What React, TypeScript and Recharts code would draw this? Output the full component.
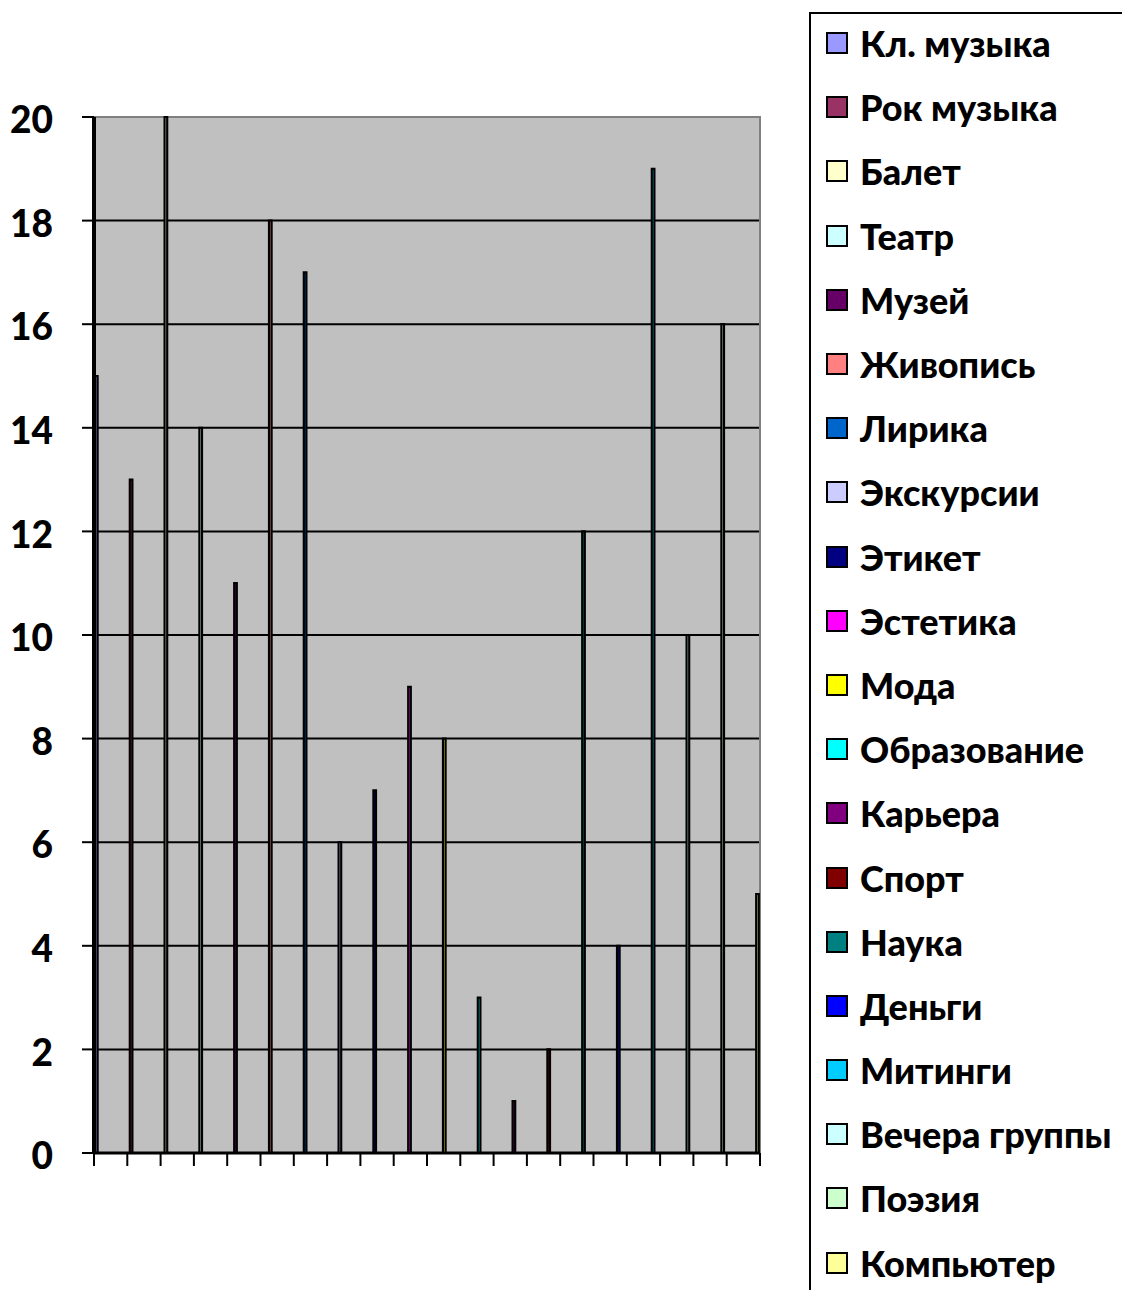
import { BarChart, Bar, XAxis, YAxis, CartesianGrid, ReferenceArea } from 'recharts';

const interests = [
  'Кл. музыка', 'Рок музыка', 'Балет', 'Театр', 'Музей', 'Живопись', 'Лирика',
  'Экскурсии', 'Этикет', 'Эстетика', 'Мода', 'Образование', 'Карьера', 'Спорт',
  'Наука', 'Деньги', 'Митинги', 'Вечера группы', 'Поэзия', 'Компьютер',
];
const votes = [15, 13, 20, 14, 11, 18, 17, 6, 7, 9, 8, 3, 1, 2, 12, 4, 19, 10, 16, 5];
const colors = [
  '#9999FF', '#993366', '#FFFFCC', '#CCFFFF', '#660066', '#FF8080', '#0066CC',
  '#CCCCFF', '#000080', '#FF00FF', '#FFFF00', '#00FFFF', '#800080', '#800000',
  '#008080', '#0000FF', '#00CCFF', '#CCFFFF', '#CCFFCC', '#FFFF99',
];
const yTicks = [0, 2, 4, 6, 8, 10, 12, 14, 16, 18, 20];
const xTicks = [0, 1, 2, 3, 4, 5, 6, 7, 8, 9, 10, 11, 12, 13, 14, 15, 16, 17, 18, 19, 20];

const row: Record<string, string | number> = { group: 'Интересы' };
interests.forEach((name, i) => { row[name] = votes[i]; });
const data = [row];

const FONT = 'Lato, "Open Sans", sans-serif';

// legend box on the right, cut off by the page edge like the original sheet
const LegendBox = () => (
  <div
    style={{
      position: 'absolute',
      left: 809,
      top: 12,
      width: 400,
      height: 1400,
      borderLeft: '2px solid #000',
      borderTop: '2px solid #000',
      boxSizing: 'border-box',
      background: '#fff',
      fontFamily: FONT,
    }}
  >
    <div style={{ marginTop: -3 }}>
      {interests.map((name, i) => (
        <div key={name} style={{ height: 64.2, display: 'flex', alignItems: 'center' }}>
          <span
            style={{
              width: 18,
              height: 18,
              marginLeft: 15,
              marginRight: 12,
              background: colors[i],
              border: '2px solid #000',
              flex: 'none',
            }}
          />
          <span style={{ fontSize: 36, fontWeight: 900, color: '#000', whiteSpace: 'nowrap', letterSpacing: 0 }}>
            {name}
          </span>
        </div>
      ))}
    </div>
  </div>
);

export default function App() {
  return (
    <div style={{ position: 'absolute', left: 0, top: 0, width: 1122, height: 1290, overflow: 'hidden', background: '#fff' }}>
      <BarChart
        width={800}
        height={1290}
        data={data}
        margin={{ top: 117, right: 40, bottom: 117, left: 0 }}
        barCategoryGap={0}
        barGap={32.2}
      >
        <CartesianGrid fill="#C0C0C0" vertical={false} stroke="#000" strokeWidth={2} />
        <ReferenceArea xAxisId="cat" y1={0} y2={20} fill="none" stroke="#808080" strokeWidth={2} />
        <XAxis xAxisId="cat" dataKey="group" hide height={0} />
        <XAxis
          xAxisId="ticks"
          type="number"
          dataKey={() => 20}
          domain={[0, 20]}
          ticks={xTicks}
          interval={0}
          allowDataOverflow
          height={20}
          tickFormatter={() => ''}
          tickSize={13}
          axisLine={{ stroke: '#000', strokeWidth: 3 }}
          tickLine={{ stroke: '#000', strokeWidth: 2 }}
        />
        <YAxis
          width={94}
          domain={[0, 20]}
          ticks={yTicks}
          interval={0}
          tickSize={12}
          tickMargin={29}
          axisLine={{ stroke: '#000', strokeWidth: 4 }}
          tickLine={{ stroke: '#000', strokeWidth: 2 }}
          tick={{ fill: '#000', fontSize: 37, fontWeight: 900, fontFamily: FONT, dy: 3 }}
        />
        {interests.map((name, i) => (
          <Bar
            key={name}
            xAxisId="cat"
            dataKey={name}
            name={name}
            fill={colors[i]}
            stroke="#000"
            strokeWidth={2.2}
            barSize={2.6}
            isAnimationActive={false}
          />
        ))}
      </BarChart>
      <LegendBox />
    </div>
  );
}
